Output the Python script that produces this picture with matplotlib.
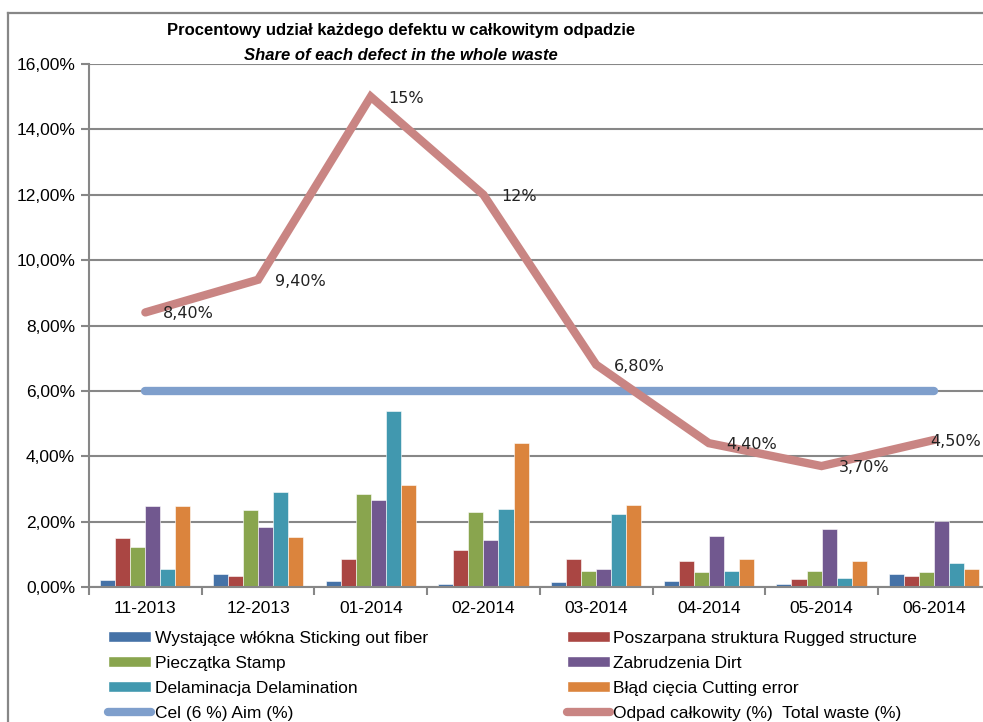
import numpy as np
import matplotlib.pyplot as plt
from matplotlib.lines import Line2D
from matplotlib.patches import Patch
from matplotlib import font_manager

# ---- data ----
months = ["11-2013", "12-2013", "01-2014", "02-2014",
          "03-2014", "04-2014", "05-2014", "06-2014"]

defect_names = ["Wystające włókna Sticking out fiber",
                "Poszarpana struktura Rugged structure",
                "Pieczątka Stamp",
                "Zabrudzenia Dirt",
                "Delaminacja Delamination",
                "Błąd cięcia Cutting error"]

sticking_out = [0.21, 0.40, 0.17, 0.08, 0.14, 0.17, 0.08, 0.40]
rugged = [1.49, 0.33, 0.85, 1.13, 0.85, 0.79, 0.25, 0.33]
stamp = [1.23, 2.35, 2.83, 2.29, 0.49, 0.46, 0.49, 0.46]
dirt = [2.48, 1.84, 2.67, 1.45, 0.55, 1.55, 1.77, 2.01]
delamination = [0.55, 2.92, 5.38, 2.38, 2.22, 0.49, 0.27, 0.72]
cutting = [2.48, 1.52, 3.12, 4.40, 2.51, 0.85, 0.79, 0.55]

aim = [6.0] * 8
total_waste = [8.4, 9.4, 15.0, 12.0, 6.8, 4.4, 3.7, 4.5]
total_labels = ["8,40%", "9,40%", "15%", "12%", "6,80%", "4,40%", "3,70%", "4,50%"]

aim_name = "Cel (6 %) Aim (%)"
total_name = "Odpad całkowity (%)  Total waste (%)"

bar_colors = ["#4572A7", "#AA4643", "#89A54E", "#71588F", "#4198AF", "#DB843D"]
aim_color = "#7F9FCC"
total_color = "#C98583"
grid_color = "#878787"

available = {f.name for f in font_manager.fontManager.ttflist}
base_font = "Liberation Sans Narrow" if "Liberation Sans Narrow" in available else "Liberation Sans"
plt.rcParams['font.family'] = [base_font, 'DejaVu Sans']

fig = plt.figure(figsize=(9.83, 7.22), dpi=100)
# axes run a little past the right edge of the picture, as in the reference crop
ax = fig.add_axes([89 / 983, 1 - 587 / 722, (995 - 89) / 983, (587 - 64) / 722])

# outer chart frame: only the top and left edges show in the reference
frame_x, frame_y = 8 / 983, 1 - 13 / 722
fig.add_artist(Line2D([frame_x, frame_x], [0, frame_y], transform=fig.transFigure,
                      color=grid_color, linewidth=1.6))
fig.add_artist(Line2D([frame_x, 1.02], [frame_y, frame_y], transform=fig.transFigure,
                      color=grid_color, linewidth=1.6))

series = [sticking_out, rugged, stamp, dirt, delamination, cutting]
x = np.arange(len(months))
bw = 0.8 / 6
for i, vals in enumerate(series):
    ax.bar(x - 0.4 + bw * (i + 0.5), vals, width=bw, color=bar_colors[i],
           edgecolor="white", linewidth=0.4, zorder=2)

ax.plot(x, aim, color=aim_color, linewidth=6, solid_capstyle="round", zorder=3)
ax.plot(x, total_waste, color=total_color, linewidth=6, solid_capstyle="round",
        solid_joinstyle="miter", zorder=4)

for i, (v, lab) in enumerate(zip(total_waste, total_labels)):
    # last label sits tight against the point so it stays inside the picture
    dx = 12.5 if i < len(months) - 1 else -3
    ax.annotate(lab, (x[i], v), xytext=(dx, -1), textcoords="offset points",
                ha="left", va="center", fontsize=11.5, family="DejaVu Sans",
                color="#222222", zorder=5, annotation_clip=False)

ax.set_ylim(0, 16)
ax.set_xlim(-0.5, -0.5 + 906 / 112.7)
ax.set_yticks(np.arange(0, 17, 2))
ax.set_yticklabels([f"{v:.2f}%".replace(".", ",") for v in np.arange(0, 17, 2)],
                   fontsize=12.5)
ax.yaxis.grid(True, color=grid_color, linewidth=1.5, zorder=0)
ax.set_axisbelow(True)

ax.set_xticks(np.arange(-0.5, 8, 1))
ax.set_xticklabels([])
ax.set_xticks(x, minor=True)
ax.set_xticklabels(months, minor=True, fontsize=12.5)
ax.tick_params(axis="x", which="minor", length=0, pad=10)
ax.tick_params(axis="x", which="major", length=6, width=1.5, color=grid_color)
ax.tick_params(axis="y", length=6, width=1.5, color=grid_color, pad=4)

for side in ["top", "right"]:
    ax.spines[side].set_visible(False)
for side in ["left", "bottom"]:
    ax.spines[side].set_color(grid_color)
    ax.spines[side].set_linewidth(1.5)

fig.text(401 / 983, 1 - 31 / 722, "Procentowy udział każdego defektu w całkowitym odpadzie",
         ha="center", va="center", fontsize=12, fontweight="bold")
fig.text(401 / 983, 1 - 55 / 722, "Share of each defect in the whole waste",
         ha="center", va="center", fontsize=12, fontweight="bold", style="italic")

bar_handles = [Patch(facecolor=c, edgecolor="white") for c in bar_colors]
aim_handle = Line2D([], [], color=aim_color, linewidth=6, solid_capstyle="round")
total_handle = Line2D([], [], color=total_color, linewidth=6, solid_capstyle="round")
handles = [bar_handles[0], bar_handles[2], bar_handles[4], aim_handle,
           bar_handles[1], bar_handles[3], bar_handles[5], total_handle]
labels = [defect_names[0], defect_names[2], defect_names[4], aim_name,
          defect_names[1], defect_names[3], defect_names[5], total_name]
fig.legend(handles, labels, ncol=2, loc="upper left",
           bbox_to_anchor=(99 / 983, 1 - 622 / 722), frameon=False,
           fontsize=12.5, handlelength=2.5, handleheight=0.6, handletextpad=0.2,
           labelspacing=0.58, columnspacing=8.0, borderpad=0)

fig.savefig("out.png", dpi=100)
